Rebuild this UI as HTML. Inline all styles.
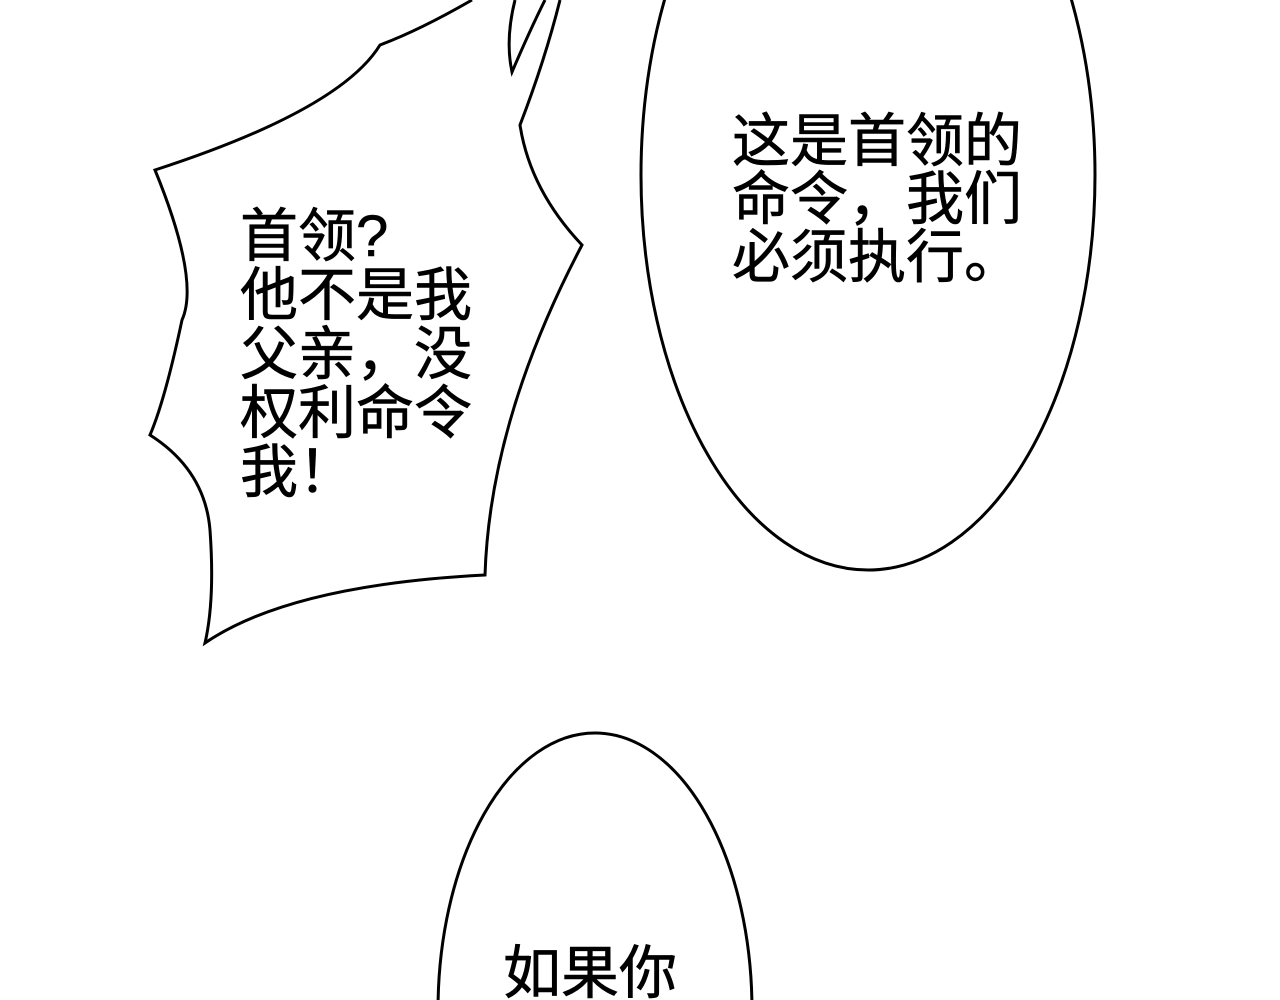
<!DOCTYPE html>
<html><head><meta charset="utf-8"><style>
html,body{margin:0;padding:0;background:#fff;width:1280px;height:1000px;overflow:hidden;}
svg{display:block}
text{font-family:"Liberation Sans","Noto Sans CJK SC",sans-serif;font-size:58px;fill:#000;stroke:#000;stroke-width:0.6px}
</style></head><body>
<svg width="1280" height="1000" viewBox="0 0 1280 1000" xmlns="http://www.w3.org/2000/svg">
<g fill="#fff" stroke="#000" stroke-width="3" stroke-linejoin="miter">
<path d="M472,0 Q420,30 380,45 Q340,110 155,170 Q200,280 182,320 Q165,400 150,435 Q205,470 210,530 Q215,600 205,643 Q290,585 485,575 Q490,420 582,245 Q530,190 520,125 Q545,60 560,0"/>
<path d="M515,0 Q505,40 512,72 Q530,30 545,0" />
<ellipse cx="868" cy="175" rx="227" ry="395"/>
<ellipse cx="595" cy="1010" rx="157" ry="277"/>
</g>
<text x="240" y="256">首领?</text>
<text x="240" y="315">他不是我</text>
<text x="240" y="374">父亲，没</text>
<text x="240" y="433">权利命令</text>
<text x="240" y="492">我！</text>
<text x="732" y="161">这是首领的</text>
<text x="732" y="219">命令，我们</text>
<text x="732" y="277">必须执行。</text>
<text x="503" y="993">如果你</text>
</svg>
</body></html>
